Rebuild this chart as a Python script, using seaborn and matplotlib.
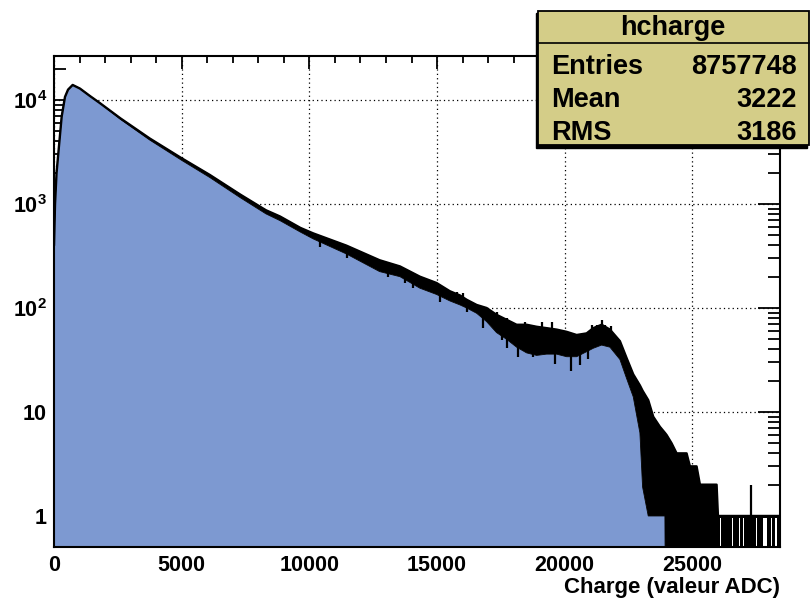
import numpy as np
import pandas as pd
import matplotlib
matplotlib.use("Agg")
import matplotlib.pyplot as plt
from matplotlib.patches import Rectangle
from matplotlib.lines import Line2D
from matplotlib.ticker import FixedLocator, MultipleLocator, LogLocator, NullFormatter
import seaborn as sns

# ---------------- data ----------------
charge = [0, 40, 100, 170, 300, 430, 550, 730, 1018, 1400, 1800, 2600, 3750,
          5000, 6100, 7300, 8300, 8850, 9650, 10150, 11450, 12750, 13550,
          14330, 14980, 15500, 15900, 16160, 16550, 16940, 17330, 17725,
          18116, 18508, 18900, 19290, 19683, 20074, 20466, 20857, 21118,
          21445, 21770, 22161, 22423, 22683, 22944, 23049, 23270, 23466,
          23727, 23923, 23990, 24185, 24381, 24772, 24902, 25163, 25294,
          25947, 26000, 28430]
# upper edge of the drawn histogram (top of the noisy black band)
counts_hi = [398, 1000, 1995, 3090, 6918, 10715, 12589, 13964, 12882, 10965,
             9333, 6668, 4266, 2754, 1905, 1230, 871, 759, 589, 522, 398, 288,
             251, 200, 174, 145, 132, 120, 107, 100, 86, 77, 69, 69, 66, 64,
             62, 59, 55, 57, 64, 69, 62, 48, 33, 23, 18, 16, 13, 9, 7.2, 6.3,
             6, 5, 4, 4, 3, 3, 2, 2, 1, 1]
# lower edge of the noisy band (top of the blue fill); 0 = empty bins
counts_lo = [398, 1000, 1995, 3090, 6918, 10715, 12589, 13964, 12882, 10965,
             9333, 6530, 4121, 2630, 1799, 1148, 804, 692, 537, 462, 331, 224,
             200, 155, 135, 117, 107, 100, 89, 74, 58, 50, 42, 37, 35, 36, 36,
             34, 34, 38, 41, 44, 42, 32, 21, 14, 6.3, 1.9, 1, 1, 1, 1, 0, 0,
             0, 0, 0, 0, 0, 0, 0, 0]

# narrow upward spikes above the band (charge, count)
spike_charge = [15767, 16002, 16810, 17333, 17725, 18442, 19095, 19487,
                21053, 21249, 21445, 21574, 21809, 27279]
spike_count = [143, 138, 103, 92, 80, 74, 74, 74, 69, 69, 77, 69, 67, 2]
# narrow downward dips into the blue fill (charge, count)
dip_charge = [10415, 11460, 13090, 13743, 14069, 15114, 16158, 16810, 17529,
              17725, 18180, 18768, 19616, 19943, 20230, 20595, 20920]
dip_count = [388, 300, 200, 173, 155, 115, 92, 64, 49, 41, 34, 34, 29, 35,
             25, 28, 32]
# runs of empty bins in the far tail (start, end)
empty_start = [26080, 26550, 26810, 26970, 27490, 27780, 28080, 28220]
empty_end = [26120, 26590, 26850, 27010, 27540, 27910, 28120, 28300]

y_tick_vals = [1, 10, 100, 1000, 10000]
y_tick_labels = ["1", "10", r"$\mathbf{10^{2}}$", r"$\mathbf{10^{3}}$", r"$\mathbf{10^{4}}$"]
x_label = "Charge (valeur ADC)"
stats_title = "hcharge"
stats_names = ["Entries", "Mean", "RMS"]
stats_values = ["8757748", "3222", "3186"]

# ---------------- style ----------------
sns.set_style("ticks")
plt.rcParams["font.family"] = ["Liberation Sans", "DejaVu Sans"]
plt.rcParams["font.weight"] = "bold"
plt.rcParams["text.color"] = "black"
plt.rcParams["axes.labelcolor"] = "black"
plt.rcParams["xtick.color"] = "black"
plt.rcParams["ytick.color"] = "black"
plt.rcParams["axes.edgecolor"] = "black"
plt.rcParams["mathtext.fontset"] = "custom"
plt.rcParams["mathtext.rm"] = "Liberation Sans:bold"
plt.rcParams["mathtext.bf"] = "Liberation Sans:bold"
plt.rcParams["mathtext.it"] = "Liberation Sans:bold"

BLUE = "#7d99d1"
KHAKI = "#d4cd88"

W, H = 811, 600
fig = plt.figure(figsize=(W / 100, H / 100), dpi=100)
ax = fig.add_axes([54 / W, 1 - 547 / H, (780 - 54) / W, (547 - 56) / H])

df = pd.DataFrame({"charge": charge, "hi": counts_hi, "lo": counts_lo})
floor = 1e-3
lo_draw = np.where(df["lo"].to_numpy() > 0, df["lo"].to_numpy(), floor)

ax.fill_between(df["charge"], floor, lo_draw, color=BLUE, lw=0, zorder=2)
ax.fill_between(df["charge"], lo_draw, df["hi"], color="black", lw=0.6,
                edgecolor="black", zorder=3)

# spikes and dips
log_hi = np.log10(df["hi"].to_numpy())
log_lo = np.log10(lo_draw)
x_arr = df["charge"].to_numpy()
sp_base = 10 ** np.interp(spike_charge, x_arr, log_hi)
ax.vlines(spike_charge, sp_base, spike_count, color="black", lw=1.6, zorder=3)
dp_base = 10 ** np.interp(dip_charge, x_arr, log_lo)
ax.vlines(dip_charge, dip_count, dp_base * 1.05, color="black", lw=1.6, zorder=3)
for s, e in zip(empty_start, empty_end):
    ax.fill_between([s, e], floor, 0.96, color="white", lw=0, zorder=3.5)

sns.lineplot(data=df, x="charge", y="hi", color="black", lw=1.7, ax=ax, zorder=4)

ax.set_yscale("log")
ax.set_xlim(0, 28430)
ax.set_ylim(0.503, 26500)

ax.yaxis.set_major_locator(FixedLocator(y_tick_vals))
ax.set_yticklabels(y_tick_labels)
ax.yaxis.set_minor_locator(LogLocator(base=10, subs=np.arange(2, 10), numticks=30))
ax.yaxis.set_minor_formatter(NullFormatter())
ax.xaxis.set_major_locator(MultipleLocator(5000))
ax.xaxis.set_minor_locator(MultipleLocator(1000))

ax.set_axisbelow(True)
ax.grid(True, which="major", linestyle=(0, (1, 2.5)), color="black", lw=0.9)

ax.tick_params(axis="both", which="both", direction="in", top=True, right=True,
               width=1.3, labelsize=15.5, colors="black")
ax.tick_params(axis="x", which="major", length=9.5, pad=6)
ax.tick_params(axis="x", which="minor", length=5)
ax.tick_params(axis="y", which="major", length=16, pad=5)
ax.tick_params(axis="y", which="minor", length=8.5)
for lab in ax.get_xticklabels() + ax.get_yticklabels():
    lab.set_fontweight("bold")
for sp in ax.spines.values():
    sp.set_linewidth(1.5)
    sp.set_zorder(6)
ax.set_xlabel("")
ax.set_ylabel("")

fig.text(780 / W, 1 - 593 / H, x_label, ha="right", va="baseline",
         fontsize=16, fontweight="bold")

# ---------------- stats box ----------------
bx0, bx1 = 538, 809
by0, by1 = 10.7, 145
shadow = Rectangle(((bx0 - 2.5) / W, 1 - (by1 + 2.5) / H), (bx1 - bx0) / W,
                   (by1 - by0) / H, transform=fig.transFigure,
                   facecolor="black", edgecolor="black", zorder=8)
box = Rectangle((bx0 / W, 1 - by1 / H), (bx1 - bx0) / W, (by1 - by0) / H,
                transform=fig.transFigure, facecolor=KHAKI, edgecolor="black",
                lw=1.3, zorder=9)
fig.add_artist(shadow)
fig.add_artist(box)
fig.add_artist(Line2D([bx0 / W, bx1 / W], [1 - 43 / H, 1 - 43 / H],
                      transform=fig.transFigure, color="black", lw=1.2, zorder=10))
fig.text(672.5 / W, 1 - 35 / H, stats_title, ha="center", va="baseline",
         fontsize=19.5, fontweight="bold", zorder=11)
for i, (n, v) in enumerate(zip(stats_names, stats_values)):
    yb = [74, 107, 140][i]
    fig.text(551.5 / W, 1 - yb / H, n, ha="left", va="baseline",
             fontsize=19.5, fontweight="bold", zorder=11)
    fig.text(797 / W, 1 - yb / H, v, ha="right", va="baseline",
             fontsize=19.5, fontweight="bold", zorder=11)

fig.savefig("out.png", dpi=100)
